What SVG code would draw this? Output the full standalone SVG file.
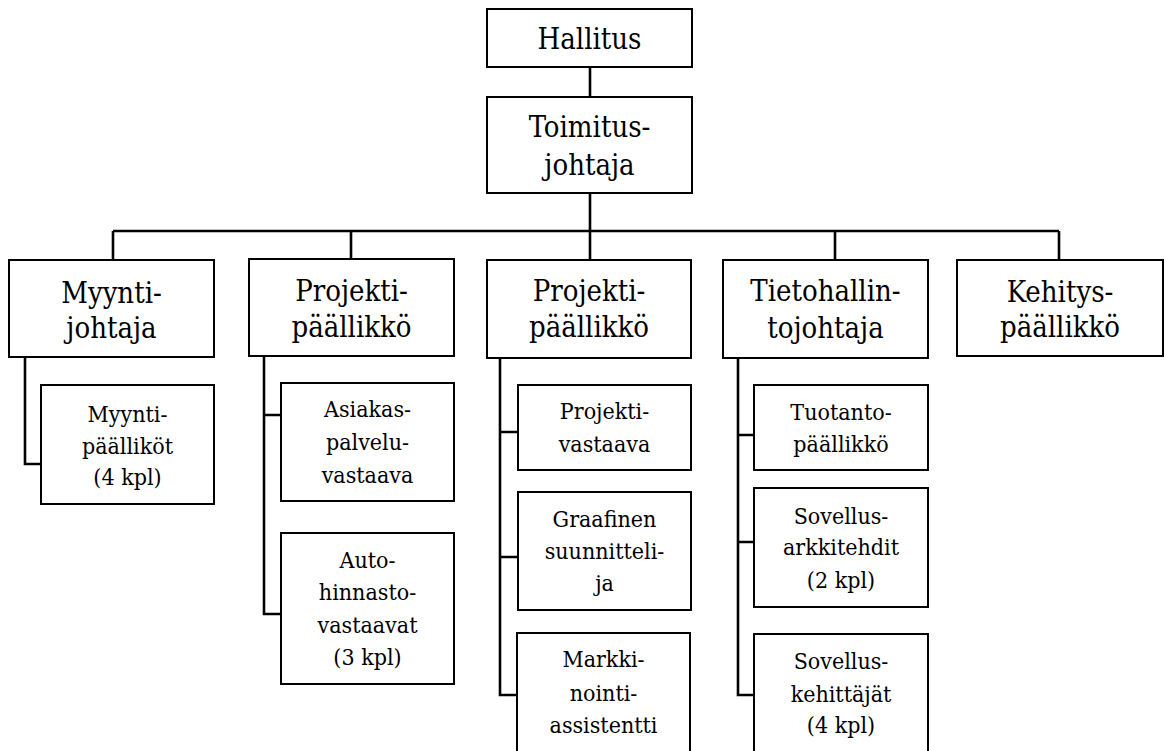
<svg xmlns="http://www.w3.org/2000/svg" width="1165" height="751" viewBox="0 0 1165 751">
<style>
.box{fill:#fff;stroke:#000;stroke-width:2}
.c{fill:none;stroke:#000;stroke-width:2.6}
text{fill:#000;text-anchor:middle}
.l1{font-size:29px}
.l3{font-size:23px}
</style>
<rect width="1165" height="751" fill="#fff"/>
<g id="connectors">
<path class="c" d="M590 67V97M590 193V231M113 231H1059M113 231V260M351 231V260M590 231V260M835 231V260M1059 231V260"/>
<path class="c" d="M25 357V464H41"/>
<path class="c" d="M264 356V614H281M264 415H281"/>
<path class="c" d="M500 358V695H517M500 432H518M500 557H518"/>
<path class="c" d="M738 358V695H754M738 435H754M738 542H754"/>
</g>
<g font-family="'DejaVu Serif Condensed', 'DejaVu Serif', serif">
<g id="hallitus"><rect class="box" x="487" y="9" width="205" height="58"/><text class="l1" x="589.5" y="49">Hallitus</text></g>
<g id="toimitusjohtaja"><rect class="box" x="487" y="97" width="205" height="96"/><text class="l1" x="589.5" y="137">Toimitus-</text><text class="l1" x="589.5" y="175">johtaja</text></g>
<g id="myyntijohtaja"><rect class="box" x="9" y="260" width="205" height="97"/><text class="l1" x="111.5" y="303">Myynti-</text><text class="l1" x="111.5" y="338">johtaja</text></g>
<g id="projektipaallikko1"><rect class="box" x="249" y="259" width="205" height="97"/><text class="l1" x="351.5" y="301">Projekti-</text><text class="l1" x="351.5" y="337">päällikkö</text></g>
<g id="projektipaallikko2"><rect class="box" x="487" y="260" width="204" height="98"/><text class="l1" x="589" y="301">Projekti-</text><text class="l1" x="589" y="337">päällikkö</text></g>
<g id="tietohallintojohtaja"><rect class="box" x="723" y="260" width="205" height="98"/><text class="l1" x="825.5" y="301">Tietohallin-</text><text class="l1" x="825.5" y="338">tojohtaja</text></g>
<g id="kehityspaallikko"><rect class="box" x="957" y="260" width="206" height="96"/><text class="l1" x="1060" y="302">Kehitys-</text><text class="l1" x="1060" y="337">päällikkö</text></g>
<g id="myyntipaallikot"><rect class="box" x="41" y="385" width="173" height="119"/><text class="l3" x="127.5" y="422">Myynti-</text><text class="l3" x="127.5" y="453.5">päälliköt</text><text class="l3" x="127.5" y="485">(4 kpl)</text></g>
<g id="asiakaspalveluvastaava"><rect class="box" x="281" y="383" width="173" height="118"/><text class="l3" x="367.5" y="417">Asiakas-</text><text class="l3" x="367.5" y="450">palvelu-</text><text class="l3" x="367.5" y="483">vastaava</text></g>
<g id="autohinnastovastaavat"><rect class="box" x="281" y="533" width="173" height="151"/><text class="l3" x="367.5" y="568">Auto-</text><text class="l3" x="367.5" y="600">hinnasto-</text><text class="l3" x="367.5" y="633">vastaavat</text><text class="l3" x="367.5" y="665">(3 kpl)</text></g>
<g id="projektivastaava"><rect class="box" x="518" y="385" width="173" height="85"/><text class="l3" x="604.5" y="418.5">Projekti-</text><text class="l3" x="604.5" y="451.5">vastaava</text></g>
<g id="graafinensuunnittelija"><rect class="box" x="518" y="492" width="173" height="118"/><text class="l3" x="604.5" y="527">Graafinen</text><text class="l3" x="604.5" y="558.5">suunnitteli-</text><text class="l3" x="604.5" y="591">ja</text></g>
<g id="markkinointiassistentti"><rect class="box" x="517" y="633" width="173" height="122"/><text class="l3" x="603.5" y="667">Markki-</text><text class="l3" x="603.5" y="700.5">nointi-</text><text class="l3" x="603.5" y="733">assistentti</text></g>
<g id="tuotantopaallikko"><rect class="box" x="754" y="385" width="174" height="85"/><text class="l3" x="841" y="420">Tuotanto-</text><text class="l3" x="841" y="452">päällikkö</text></g>
<g id="sovellusarkkitehdit"><rect class="box" x="754" y="488" width="174" height="119"/><text class="l3" x="841" y="523.5">Sovellus-</text><text class="l3" x="841" y="555">arkkitehdit</text><text class="l3" x="841" y="588">(2 kpl)</text></g>
<g id="sovelluskehittajat"><rect class="box" x="754" y="634" width="174" height="122"/><text class="l3" x="841" y="668.5">Sovellus-</text><text class="l3" x="841" y="701.5">kehittäjät</text><text class="l3" x="841" y="733">(4 kpl)</text></g>
</g>
</svg>
